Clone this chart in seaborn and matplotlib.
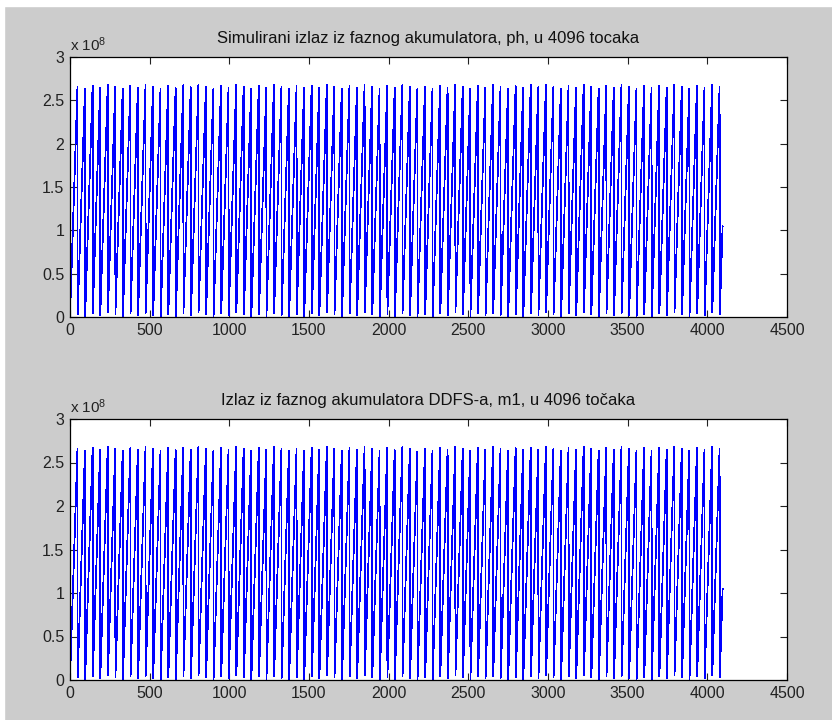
import numpy as np
import pandas as pd
import matplotlib
matplotlib.use("Agg")
import matplotlib.pyplot as plt
from matplotlib.patches import Rectangle
from matplotlib.ticker import FuncFormatter, MultipleLocator
import seaborn as sns

# --- accumulator settings ---
N_POINTS = 4096            # samples shown on the x axis
ACC_BITS = 28              # wrap level ~2.68e8 = 2^28
PHASE_INCREMENT = 5661656  # ~86.4 wraps over 4096 samples, last value ~1.05e8

TITLES = [
    "Simulirani izlaz iz faznog akumulatora, ph, u 4096 tocaka",
    "Izlaz iz faznog akumulatora DDFS-a, m1, u 4096 točaka",
]
X_TICKS = list(range(0, 4501, 500))
Y_MAX = 3e8

# phase accumulator output (same register shown in both panels)
n = np.arange(1, N_POINTS + 1, dtype=np.int64)
ph = (n * PHASE_INCREMENT) % (2 ** ACC_BITS)
df = pd.DataFrame({"n": n, "ph": ph})

sns.set_theme(style="ticks")
plt.rcParams["font.family"] = ["Liberation Sans", "DejaVu Sans"]
plt.rcParams["mathtext.default"] = "regular"
plt.rcParams.update({
    "xtick.direction": "in", "ytick.direction": "in",
    "xtick.top": True, "ytick.right": True,
    "xtick.major.size": 5, "ytick.major.size": 5,
    "xtick.major.width": 0.8, "ytick.major.width": 0.8,
    "axes.linewidth": 0.9, "axes.edgecolor": "black",
    "xtick.color": "#222222", "ytick.color": "#222222",
    "xtick.labelsize": 11.5, "ytick.labelsize": 11.5,
})

fig = plt.figure(figsize=(8.32, 7.2), dpi=100, facecolor="#cccccc")
# thin white strip along top and left edge of the screenshot
fig.patches.append(Rectangle((0, 1 - 6 / 720), 1, 6 / 720, transform=fig.transFigure,
                             color="white", zorder=-1))
fig.patches.append(Rectangle((0, 0), 4 / 832, 1, transform=fig.transFigure,
                             color="white", zorder=-1))

positions = [
    [70 / 832, 1 - 317 / 720, 717 / 832, 260 / 720],
    [70 / 832, 1 - 680 / 720, 717 / 832, 261 / 720],
]

for pos, title in zip(positions, TITLES):
    ax = fig.add_axes(pos)
    ax.set_facecolor("white")
    sns.lineplot(data=df, x="n", y="ph", ax=ax, color="blue", linewidth=0.55,
                 estimator=None, antialiased=False)
    ax.set_xlim(0, 4500)
    ax.set_ylim(0, Y_MAX)
    ax.set_xticks(X_TICKS)
    ax.yaxis.set_major_locator(MultipleLocator(0.5e8))
    ax.yaxis.set_major_formatter(FuncFormatter(lambda v, _: f"{v / 1e8:g}"))
    ax.set_xlabel("")
    ax.set_ylabel("")
    ax.tick_params(pad=4)
    ax.set_title(title, fontsize=12, color="#111111", pad=10)
    ax.text(0.0, 1.012, r"x 10$^{8}$", transform=ax.transAxes, ha="left",
            va="bottom", fontsize=11, color="#222222")

fig.savefig("out.png", dpi=100, facecolor=fig.get_facecolor())
